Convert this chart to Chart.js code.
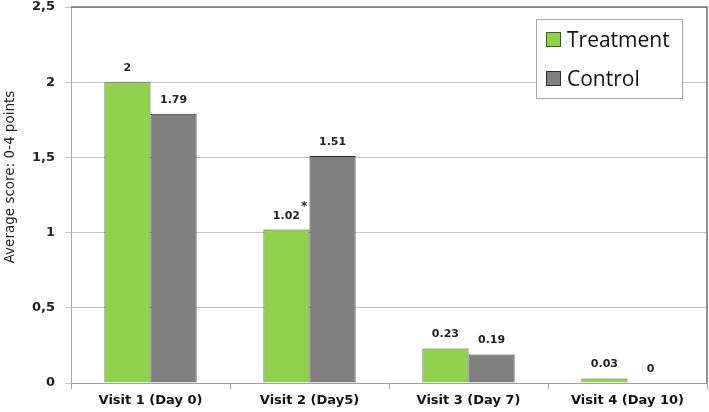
<!DOCTYPE html>
<html>
<head>
<meta charset="utf-8">
<script src="https://cdn.jsdelivr.net/npm/chart.js@4"></script>
<style>
  html, body { margin: 0; padding: 0; background: #fff; }
  #wrap { width: 709px; height: 412px; }
</style>
</head>
<body>
<div id="wrap"><canvas id="scoreChart" width="709" height="412"></canvas></div>
<script>
const visits = ["Visit 1 (Day 0)", "Visit 2 (Day5)", "Visit 3 (Day 7)", "Visit 4 (Day 10)"];
const treatment = [2, 1.02, 0.23, 0.03];
const control = [1.79, 1.51, 0.19, 0];
const treatmentMarks = ["", "*", "", ""];
const yTicks = [0, 0.5, 1, 1.5, 2, 2.5];
const yTitle = "Average score: 0-4 points";

// value labels above bars, plus the significance star
const barLabels = {
  id: "barLabels",
  afterDatasetsDraw(chart) {
    const c = chart.ctx;
    c.save();
    c.font = "bold 11px 'DejaVu Sans'";
    c.fillStyle = "#222";
    c.textAlign = "center";
    c.textBaseline = "alphabetic";
    chart.data.datasets.forEach((ds, i) => {
      chart.getDatasetMeta(i).data.forEach((bar, j) => {
        const txt = String(ds.data[j]);
        c.fillText(txt, bar.x, bar.y - 11);
        if (i === 0 && treatmentMarks[j]) {
          const w = c.measureText(txt).width;
          c.font = "bold 12px 'DejaVu Sans'";
          c.fillText(treatmentMarks[j], bar.x + w / 2 + 4, bar.y - 20);
          c.font = "bold 11px 'DejaVu Sans'";
        }
      });
    });
    c.restore();
  }
};

// top/right frame, rotated y title, legend box
const decor = {
  id: "decor",
  beforeDatasetsDraw(chart) {
    const a = chart.chartArea, c = chart.ctx;
    c.save();
    c.strokeStyle = "#707070";
    c.lineWidth = 1.5;
    c.beginPath();
    c.moveTo(a.left, a.top);
    c.lineTo(a.right, a.top);
    c.lineTo(a.right, a.bottom);
    c.stroke();
    c.restore();
  },
  afterDraw(chart) {
    const c = chart.ctx;
    c.save();
    c.translate(10, 177);
    c.rotate(-Math.PI / 2);
    c.font = "13.5px 'DejaVu Sans'";
    c.fillStyle = "#222";
    c.textAlign = "center";
    c.textBaseline = "middle";
    c.fillText(yTitle, 0, 0);
    c.restore();

    c.save();
    c.fillStyle = "#fff";
    c.fillRect(536, 19, 146, 79);
    c.strokeStyle = "#a8a8a8";
    c.lineWidth = 1;
    c.strokeRect(536.5, 19.5, 146, 79);
    c.font = "21px 'Open Sans'";
    c.textBaseline = "alphabetic";
    c.textAlign = "left";
    chart.data.datasets.forEach((ds, i) => {
      const y = 32 + i * 39;
      c.fillStyle = ds.backgroundColor;
      c.fillRect(546, y, 14, 14);
      c.strokeStyle = ds.borderColor;
      c.strokeRect(546.5, y + 0.5, 14, 14);
      c.fillStyle = "#111";
      c.fillText(ds.label, 567, y + 15);
    });
    c.restore();
  }
};

const ctx = document.getElementById("scoreChart").getContext("2d");
new Chart(ctx, {
  type: "bar",
  data: {
    labels: visits,
    datasets: [
      {
        label: "Treatment",
        data: treatment,
        backgroundColor: "#92d050",
        borderColor: "#3f5a25",
        borderWidth: 1
      },
      {
        label: "Control",
        data: control,
        backgroundColor: "#808080",
        borderColor: "#2e2e2e",
        borderWidth: 1
      }
    ]
  },
  options: {
    responsive: false,
    animation: false,
    layout: { padding: { top: 7, right: 2, left: 0, bottom: 0 } },
    datasets: { bar: { barPercentage: 1, categoryPercentage: 0.58 } },
    plugins: {
      legend: { display: false },
      tooltip: { enabled: false }
    },
    scales: {
      x: {
        grid: { offset: true, drawOnChartArea: false, drawTicks: true, tickLength: 6, color: "#a0a0a0" },
        border: { color: "#a0a0a0" },
        ticks: { color: "#111", font: { family: "DejaVu Sans", size: 13, weight: "bold" }, padding: 4, maxRotation: 0 },
        afterFit(s) { s.height = 29; }
      },
      y: {
        min: 0,
        max: 2.5,
        afterBuildTicks(s) { s.ticks = yTicks.map(v => ({ value: v })); },
        grid: { color: "#c4c4c4", tickLength: 6 },
        border: { color: "#a6a6a6" },
        ticks: {
          color: "#222",
          font: { family: "DejaVu Sans", size: 13, weight: "bold" },
          padding: 10,
          callback: v => String(v).replace(".", ",")
        },
        afterFit(s) {
          s.width = 71;
          s.paddingTop = 0;
          s.paddingBottom = 0;
        }
      }
    }
  },
  plugins: [barLabels, decor]
});
</script>
</body>
</html>
